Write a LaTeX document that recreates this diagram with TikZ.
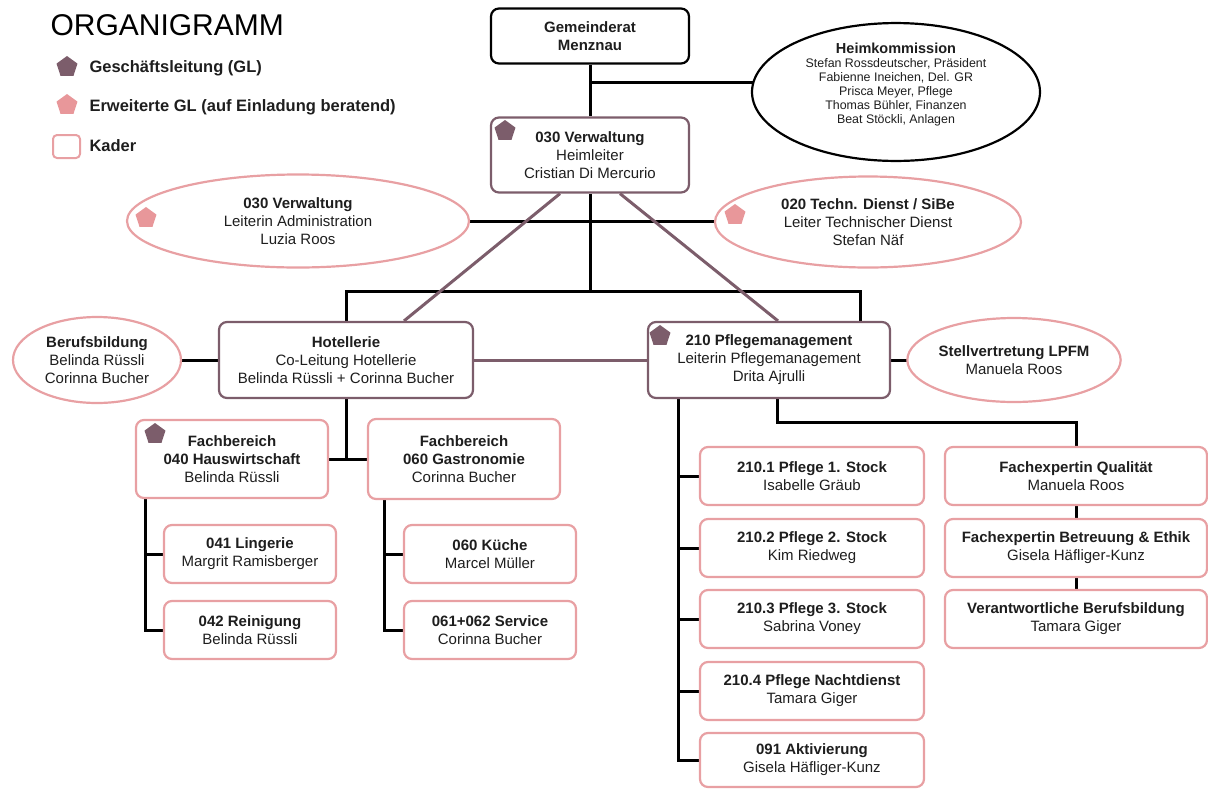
\documentclass[tikz,border=0pt]{standalone}
\usepackage{fontspec}
\setmainfont{Liberation Sans}
\usetikzlibrary{shapes.geometric,backgrounds,calc}
\definecolor{mauve}{HTML}{7C5D6B}
\definecolor{rosa}{HTML}{E8A0A3}
\definecolor{rosafill}{HTML}{E8979A}
\definecolor{txt}{HTML}{1E1E1E}
\begin{document}
\begin{tikzpicture}[x=1pt,y=-1pt,
  every node/.style={text=txt},
  bx/.style={draw, rounded corners=8pt, line width=2.2pt, fill=white, align=center, inner sep=0pt,
     font=\fontsize{15}{18}\selectfont},
  blackbox/.style={bx, draw=black},
  gbox/.style={bx, draw=mauve},
  kbox/.style={bx, draw=rosa},
  ell/.style={draw, ellipse, line width=2.2pt, fill=white, align=center, inner sep=0pt,
     font=\fontsize{15}{18}\selectfont},
  conn/.style={line width=3pt, black},
  mconn/.style={line width=3pt, mauve},
  penta/.style={regular polygon, regular polygon sides=5, minimum size=22pt, inner sep=0pt},
  pdark/.style={penta, fill=mauve},
  plight/.style={penta, fill=rosafill},
  legtext/.style={anchor=west, font=\fontsize{16.5}{19}\selectfont\bfseries}
]
\useasboundingbox (0,0) rectangle (1208,788);

% title and legend
\node[anchor=west, font=\fontsize{30}{32}\selectfont, text=black] (title) at (47,25) {ORGANIGRAMM};
\node[pdark] (lg1) at (67,67) {};
\node[legtext] (lt1) at (86,68) {Geschäftsleitung (GL)};
\node[plight] (lg2) at (67,105) {};
\node[legtext] (lt2) at (86,107) {Erweiterte GL (auf Einladung beratend)};
\node[draw=rosa, line width=2pt, rounded corners=4pt, minimum width=27pt, minimum height=23pt, inner sep=0pt] (lg3) at (66.5,146.5) {};
\node[legtext] (lt3) at (86,146) {Kader};

% top level
\node[blackbox, minimum width=198pt, minimum height=55pt] (gem) at (590,36) {\bfseries Gemeinderat\\\bfseries Menznau};
\node[ell, draw=black, minimum width=288pt, minimum height=128pt, font=\fontsize{12.4}{14}\selectfont] (heim) at (896,92)
  {{\fontsize{14.5}{16}\selectfont\bfseries Heimkommission}\\Stefan Rossdeutscher, Präsident\\Fabienne Ineichen, Del. GR\\Prisca Meyer, Pflege\\Thomas Bühler, Finanzen\\Beat Stöckli, Anlagen\\[3pt]};
\node[gbox, minimum width=198pt, minimum height=75pt] (verw) at (590,155) {\bfseries 030 Verwaltung\\Heimleiter\\Cristian Di Mercurio};
\node[ell, draw=rosa, minimum width=342pt, minimum height=93pt] (adm) at (298,221) {\bfseries 030 Verwaltung\\Leiterin Administration\\Luzia Roos};
\node[ell, draw=rosa, minimum width=306pt, minimum height=91pt] (tech) at (868,222) {\bfseries 020 Techn. Dienst / SiBe\\Leiter Technischer Dienst\\Stefan Näf};

% second level
\node[gbox, minimum width=254pt, minimum height=76pt] (hot) at (346,360) {\bfseries Hotellerie\\Co-Leitung Hotellerie\\Belinda Rüssli + Corinna Bucher};
\node[ell, draw=rosa, minimum width=168pt, minimum height=86pt] (beruf) at (97,360) {\bfseries Berufsbildung\\Belinda Rüssli\\Corinna Bucher};
\node[gbox, minimum width=242pt, minimum height=76pt] (pfl) at (769,360) {\bfseries 210 Pflegemanagement\\Leiterin Pflegemanagement\\Drita Ajrulli};
\node[ell, draw=rosa, minimum width=192pt, minimum height=84pt] (stv) at (1014,360) {\bfseries Stellvertretung LPFM\\Manuela Roos};

% Hotellerie branch
\node[kbox, minimum width=192pt, minimum height=78pt] (hw) at (232,459) {\bfseries Fachbereich\\\bfseries 040 Hauswirtschaft\\Belinda Rüssli};
\node[kbox, minimum width=192pt, minimum height=80pt] (gas) at (464,459) {\bfseries Fachbereich\\\bfseries 060 Gastronomie\\Corinna Bucher};
\node[kbox, minimum width=172pt, minimum height=58pt] (lin) at (250,554) {\bfseries 041 Lingerie\\Margrit Ramisberger};
\node[kbox, minimum width=172pt, minimum height=58pt] (rei) at (250,630) {\bfseries 042 Reinigung\\Belinda Rüssli};
\node[kbox, minimum width=172pt, minimum height=58pt] (kue) at (490,554) {\bfseries 060 Küche\\Marcel Müller};
\node[kbox, minimum width=172pt, minimum height=58pt] (ser) at (490,630) {\bfseries 061+062 Service\\Corinna Bucher};

% Pflege branch
\node[kbox, minimum width=224pt, minimum height=58pt] (p1) at (812,476) {\bfseries 210.1 Pflege 1. Stock\\Isabelle Gräub};
\node[kbox, minimum width=224pt, minimum height=58pt] (p2) at (812,548) {\bfseries 210.2 Pflege 2. Stock\\Kim Riedweg};
\node[kbox, minimum width=224pt, minimum height=58pt] (p3) at (812,619) {\bfseries 210.3 Pflege 3. Stock\\Sabrina Voney};
\node[kbox, minimum width=224pt, minimum height=58pt] (p4) at (812,691) {\bfseries 210.4 Pflege Nachtdienst\\Tamara Giger};
\node[kbox, minimum width=224pt, minimum height=54pt] (akt) at (812,760) {\bfseries 091 Aktivierung\\Gisela Häfliger-Kunz};
\node[kbox, minimum width=262pt, minimum height=58pt] (fq) at (1076,476) {\bfseries Fachexpertin Qualität\\Manuela Roos};
\node[kbox, minimum width=262pt, minimum height=58pt] (fb) at (1076,548) {\bfseries Fachexpertin Betreuung \& Ethik\\Gisela Häfliger-Kunz};
\node[kbox, minimum width=262pt, minimum height=58pt] (vb) at (1076,619) {\bfseries Verantwortliche Berufsbildung\\Tamara Giger};

% pentagons
\node[pdark] (pv) at (505,131) {};
\node[plight] (pa) at (146,218) {};
\node[plight] (pt) at (735,215) {};
\node[pdark] (pp) at (660,336) {};
\node[pdark] (ph) at (155,434) {};

% connectors
\coordinate (j1) at (590,82);
\coordinate (j2) at (590,291);
\begin{scope}[on background layer]
  \draw[conn] (gem.south) -- (verw.north);
  \draw[conn] (j1) -- (heim.center |- j1);
  \draw[conn] (adm.center) -- (tech.center |- adm.center);
  \draw[conn] (verw.south) -- (j2);
  \draw[conn] (hot.north) |- (j2) -| ($(pfl.north east)+(-31,0)$);
  \draw[conn] (beruf.center) -- (hot.center);
  \draw[conn] (pfl.center) -- (stv.center);
  \draw[conn] (hot.south) -- (hot.south |- hw.center);
  \draw[conn] (hw.center) -- (gas.center);
  \draw[conn] ($(hw.south west)+(11,0)$) |- (lin.west);
  \draw[conn] ($(hw.south west)+(11,0)$) |- (rei.west);
  \draw[conn] ($(gas.south west)+(18,0)$) |- (kue.west);
  \draw[conn] ($(gas.south west)+(18,0)$) |- (ser.west);
  \draw[conn] ($(pfl.south west)+(32,0)$) |- (p1.west);
  \draw[conn] ($(pfl.south west)+(32,0)$) |- (p2.west);
  \draw[conn] ($(pfl.south west)+(32,0)$) |- (p3.west);
  \draw[conn] ($(pfl.south west)+(32,0)$) |- (p4.west);
  \draw[conn] ($(pfl.south west)+(32,0)$) |- (akt.west);
  \draw[conn] ($(pfl.south west)+(131,0)$) -- ++(0,23) -| (fq.north);
  \draw[conn] (fq.south) -- (fb.north);
  \draw[conn] (fb.south) -- (vb.north);
  \draw[mconn] ($(verw.south)+(-30,0)$) -- ($(hot.north)+(58,0)$);
  \draw[mconn] ($(verw.south)+(30,0)$) -- ($(pfl.north)+(9,0)$);
  \draw[mconn] (hot.center) -- (pfl.center);
\end{scope}
\end{tikzpicture}
\end{document}
